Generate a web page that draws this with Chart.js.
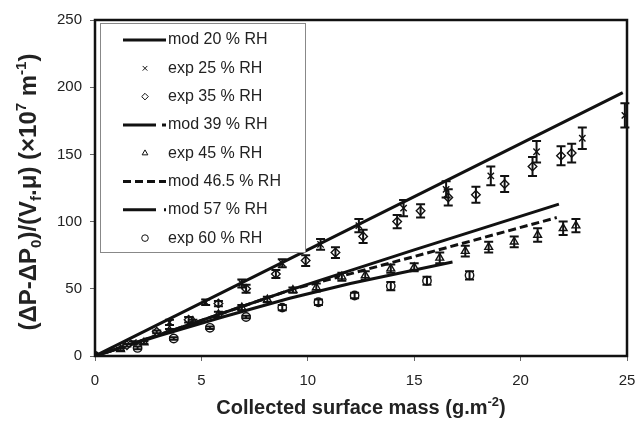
<!DOCTYPE html>
<html>
<head>
<meta charset="utf-8">
<script src="https://cdn.jsdelivr.net/npm/chart.js@4.4.0/dist/chart.umd.min.js"></script>
<style>
  html, body { margin: 0; padding: 0; background: #fff; }
  #wrap { width: 641px; height: 423px; }
</style>
</head>
<body>
<div id="wrap"><canvas id="chart"></canvas></div>
<script>
// ---- data ----
const xTicks = [0, 5, 10, 15, 20, 25];
const yTicks = [0, 50, 100, 150, 200, 250];

const labels = ["mod 20 % RH", "exp 25 % RH", "exp 35 % RH", "mod 39 % RH",
                "exp 45 % RH", "mod 46.5 % RH", "mod 57 % RH", "exp 60 % RH"];

// model curves [x, y]
const mod20  = [[0, 0], [24.8, 196]];
const mod39  = [[0, 0], [4, 21], [9.15, 49], [15, 79], [21.8, 113]];
const mod465 = [[0, 0], [4, 21], [9.15, 49], [15, 74], [21.7, 103]];
const mod57  = [[0, 0], [3, 15], [6, 29], [9.15, 43], [12, 54], [16.8, 70]];

// experiments: x, y, error
const exp25x = [0, 1.8, 3.5, 5.2, 6.9, 8.8, 10.6, 12.4, 14.5, 16.5, 18.6, 20.75, 22.9, 24.9];
const exp25y = [0, 10, 25, 40, 54, 69, 83, 97, 110, 124, 134, 152, 162, 179];
const exp25e = [0, 1, 2, 2, 3, 3, 4, 5, 6, 6, 7, 8, 8, 9];

const exp35x = [0, 1.5, 2.9, 4.4, 5.8, 7.1, 8.5, 9.9, 11.3, 12.6, 14.2, 15.3, 16.6, 17.9, 19.25, 20.56, 21.9, 22.4];
const exp35y = [0, 8, 18, 27, 39, 50, 61, 71, 77, 89, 100, 108, 118, 120, 128, 141, 149, 151];
const exp35e = [0, 1, 1, 2, 2, 3, 3, 4, 4, 5, 5, 5, 6, 6, 6, 7, 7, 7];

const exp45x = [0, 1.2, 2.3, 3.5, 4.6, 5.8, 6.9, 8.1, 9.3, 10.4, 11.6, 12.7, 13.9, 15.0, 16.2, 17.4, 18.5, 19.7, 20.8, 22.0, 22.6];
const exp45y = [0, 5, 10, 19, 26, 31, 36, 42, 49, 51, 59, 60, 65, 66, 73, 78, 81, 85, 90, 95, 97];
const exp45e = [0, 1, 1, 1, 1, 2, 2, 2, 2, 3, 3, 3, 3, 3, 4, 4, 4, 4, 5, 5, 5];

const exp60x = [0, 2.0, 3.7, 5.4, 7.1, 8.8, 10.5, 12.2, 13.9, 15.6, 17.6];
const exp60y = [0, 6, 13, 21, 29, 36, 40, 45, 52, 56, 60];
const exp60e = [0, 1, 1, 1, 1, 2, 2, 2, 3, 3, 3];

const FONT = "'Liberation Sans', Arial, sans-serif";

const pts = arr => arr.map(p => ({ x: p[0], y: p[1] }));
const zip = (xs, ys) => xs.map((x, i) => ({ x: x, y: ys[i] }));

function modSet(label, data, legendDash) {
  return { label, data: pts(data), showLine: true, borderColor: "#111", borderWidth: 3,
           pointRadius: 0, fill: false, legendDash };
}
function expSet(label, xs, ys, errs, style, r) {
  return { label, data: zip(xs, ys), errs, showLine: false, pointStyle: style, pointRadius: r,
           borderColor: "#111", backgroundColor: "#fff", pointBorderWidth: 1.4 };
}

const datasets = [
  modSet(labels[0], mod20, []),
  expSet(labels[1], exp25x, exp25y, exp25e, "crossRot", 4.5),
  expSet(labels[2], exp35x, exp35y, exp35e, "rectRot", 4.3),
  modSet(labels[3], mod39, [33, 6, 6, 6]),
  expSet(labels[4], exp45x, exp45y, exp45e, "triangle", 4.5),
  Object.assign(modSet(labels[5], mod465, [8, 4]), { borderDash: [8, 4] }),
  modSet(labels[6], mod57, [33, 8, 2, 8]),
  expSet(labels[7], exp60x, exp60y, exp60e, "circle", 4.2)
];

// draw text made of pieces (sub/superscripts)
function richText(ctx, parts, cx, cy) {
  let w = 0;
  parts.forEach(p => { ctx.font = "bold " + p[1] + "px " + FONT; w += ctx.measureText(p[0]).width; });
  let x = cx - w / 2;
  parts.forEach(p => {
    ctx.font = "bold " + p[1] + "px " + FONT;
    ctx.fillText(p[0], x, cy + p[2]);
    x += ctx.measureText(p[0]).width;
  });
}

const errorBars = {
  id: "errorBars",
  afterDatasetsDraw(chart) {
    const { ctx, scales: { x, y } } = chart;
    ctx.save();
    ctx.strokeStyle = "#111";
    ctx.lineWidth = 2;
    chart.data.datasets.forEach(ds => {
      if (!ds.errs) return;
      ds.data.forEach((p, i) => {
        const e = ds.errs[i];
        if (!e) return;
        const px = x.getPixelForValue(p.x);
        const y1 = y.getPixelForValue(p.y + e), y2 = y.getPixelForValue(p.y - e);
        ctx.beginPath();
        ctx.moveTo(px, y1); ctx.lineTo(px, y2);
        ctx.moveTo(px - 4.5, y1); ctx.lineTo(px + 4.5, y1);
        ctx.moveTo(px - 4.5, y2); ctx.lineTo(px + 4.5, y2);
        ctx.stroke();
      });
    });
    ctx.restore();
  }
};

const frame = {
  id: "frame",
  afterDraw(chart) {
    const { ctx, chartArea: a } = chart;
    ctx.save();
    ctx.strokeStyle = "#111";
    ctx.lineWidth = 2.5;
    ctx.strokeRect(a.left, a.top, a.right - a.left, a.bottom - a.top);

    // legend box
    ctx.fillStyle = "#fff";
    ctx.fillRect(100, 23, 205, 229);
    ctx.strokeStyle = "#888";
    ctx.lineWidth = 1;
    ctx.strokeRect(100.5, 23.5, 205, 229);
    chart.data.datasets.forEach((ds, i) => {
      const yy = 40 + i * 28.3;
      if (ds.showLine) {
        ctx.strokeStyle = "#111";
        ctx.lineWidth = 3;
        ctx.setLineDash(ds.legendDash);
        ctx.beginPath(); ctx.moveTo(123, yy); ctx.lineTo(166, yy); ctx.stroke();
        ctx.setLineDash([]);
      } else {
        ctx.strokeStyle = "#111";
        ctx.fillStyle = "#fff";
        ctx.lineWidth = 1;
        Chart.helpers.drawPoint(ctx, { pointStyle: ds.pointStyle, radius: 3.3, borderWidth: 1 }, 145, yy);
      }
      ctx.fillStyle = "#222";
      ctx.font = "16px " + FONT;
      ctx.textBaseline = "middle";
      ctx.fillText(ds.label, 168, yy);
    });

    // axis titles
    ctx.fillStyle = "#222";
    ctx.textBaseline = "alphabetic";
    richText(ctx, [["Collected surface mass (g.m", 20, 0], ["-2", 13, -8], [")", 20, 0]], 361, 414);
    ctx.translate(36, 192);
    ctx.rotate(-Math.PI / 2);
    richText(ctx, [["(\u0394P-\u0394P", 24, 0], ["0", 15, 5], [")/(V", 24, 0], ["f", 15, 5],
                   [".\u03bc) (\u00d710", 24, 0], ["7", 15, -10], [" m", 24, 0], ["-1", 15, -10], [")", 24, 0]], 0, 0);
    ctx.restore();
  }
};

const tickFont = { family: FONT, size: 15 };

new Chart(document.getElementById("chart"), {
  type: "scatter",
  data: { datasets },
  options: {
    responsive: true,
    maintainAspectRatio: false,
    animation: false,
    layout: { padding: { top: 20, right: 14, left: 0, bottom: 0 } },
    plugins: { legend: { display: false }, tooltip: { enabled: false } },
    scales: {
      x: {
        type: "linear", min: 0, max: 25,
        afterBuildTicks: s => { s.ticks = xTicks.map(v => ({ value: v })); },
        afterFit: s => { s.height = 67; s.paddingLeft = 0; s.paddingRight = 0; },
        grid: { drawOnChartArea: false, drawTicks: true, tickLength: 5, color: "#666" },
        border: { display: false },
        ticks: { font: tickFont, color: "#222", padding: 11, maxRotation: 0 }
      },
      y: {
        type: "linear", min: 0, max: 250,
        afterBuildTicks: s => { s.ticks = yTicks.map(v => ({ value: v })); },
        afterFit: s => { s.width = 95; },
        grid: { drawOnChartArea: false, drawTicks: true, tickLength: 5, color: "#666" },
        border: { display: false },
        ticks: { font: tickFont, color: "#222", padding: 8 }
      }
    }
  },
  plugins: [errorBars, frame]
});
</script>
</body>
</html>
